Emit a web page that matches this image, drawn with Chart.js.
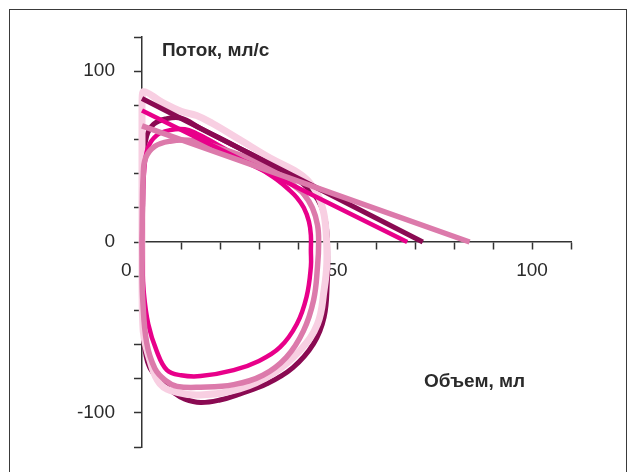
<!DOCTYPE html>
<html>
<head>
<meta charset="utf-8">
<script src="https://cdn.jsdelivr.net/npm/chart.js@4"></script>
<style>
  body { margin: 0; background: #fff; }
  #frame { position: absolute; left: 9px; top: 9px; width: 616px; height: 480px; border: 1.5px solid #3a3a3a; }
  #chart { position: absolute; left: 0; top: 0; }
</style>
</head>
<body>
<div id="frame"></div>
<canvas id="chart" width="634" height="472"></canvas>
<script>
// volume (ml), flow (ml/s) pairs
const maroonLoop = [[0,0],[0.2,25],[0.4,48],[1.2,62],[3,69],[6,72],[10,72.5],[15,66.5],[20,60.7],[25,54.8],[30,49],[35,43.2],[39,38],[42.3,32],[45,25],[46.7,16],[47.4,6],
  [47.6,-5],[47.5,-24],[46.7,-44],[44,-59.5],[38.7,-73.5],[32,-83],[25,-89],[20,-92.5],[15,-94],[11,-92],[8,-88],[4.6,-81],[2,-73.5],[0.8,-63.5],[0.3,-50],[0.1,-25],[0,0]]
const magentaLoop = [[0,0],[0.2,20],[0.5,40],[1.5,55],[3.8,62.5],[7.2,65.5],[11,66],[14,63.5],[17,60],[22.5,53],[27.7,47],[31,42],[34.6,36.5],[37.5,31],[39.7,26],[41.5,20],[42.8,12],[43.3,4],
  [43.3,-5],[43.3,-14.5],[42.2,-32],[39.7,-48],[35.4,-61.6],[30,-69.6],[23.5,-75],[15,-78.5],[10,-78],[6.4,-75],[3.8,-64],[1.6,-48],[0.4,-28],[0.1,-12],[0,0]]
const pinkLoop = [[0,0],[0.1,20],[0.3,38],[0.9,49],[3.3,56],[7.2,59],[12,59.5],[17,57],[22.5,53],[27.7,49],[32,44.5],[36,39.5],[39,33],[41.5,28],[43.7,20],[45,10],[45.3,0],
  [45,-14.5],[44,-34],[41.4,-52],[37,-67.5],[31,-78],[23.5,-83.5],[15,-85],[9,-84.5],[6,-81],[3.3,-74],[1.2,-59],[0.2,-34],[0,-15],[0,0]]
const lightLoop = [[0,0],[0,30],[0,60],[0,80],[0.3,88],[5,82],[10,76.5],[14,74],[18,69.5],[25,60],[33,49],[39,42],[42.5,36],[45,28],[46.5,18],[47.2,6],
  [47.4,-12],[46.7,-28],[45,-48],[40.5,-63.5],[33.6,-77],[25,-86],[15,-89.5],[9,-88],[4.6,-83],[2,-69],[0.3,-52],[0,-25],[0,0]]

const maroonLine = [[0,84],[72,0]]
const magentaLine = [[0,77],[68,0]]
const pinkLine = [[0,68],[84,0]]

const xLabels = { 0: '0      ', 50: '50', 100: '100' }
const yLabels = { 100: '100', 0: '0', '-100': '-100' }

const MAROON = '#8a0a52'
const MAGENTA = '#e8008a'
const PINK = '#dc7aab'
const LIGHT = '#f8cfe2'

const toPoints = (arr) => arr.map(([x, y]) => ({ x, y }))

function series (data, color, width) {
    return {
        data: toPoints(data),
        showLine: true,
        borderColor: color,
        borderWidth: width,
        pointRadius: 0,
        tension: 0.4,
        fill: false,
        clip: false
    }
}

// first dataset is drawn on top
const datasets = [
    series(pinkLine, PINK, 5.5),
    series(magentaLine, MAGENTA, 4.5),
    series(maroonLine, MAROON, 5),
    series(pinkLoop, PINK, 5.5),
    series(magentaLoop, MAGENTA, 4.5),
    series(lightLoop, LIGHT, 7),
    series(maroonLoop, MAROON, 5)
]

const axisTitles = {
    id: 'axisTitles',
    afterDraw (chart) {
        const { ctx, scales: { x, y } } = chart
        ctx.save()
        ctx.font = 'bold 19px "Liberation Sans", Arial, sans-serif'
        ctx.fillStyle = '#2a2a2a'
        ctx.textBaseline = 'middle'
        ctx.fillText('Поток, мл/с', x.getPixelForValue(5.1), y.getPixelForValue(112))
        ctx.fillText('Объем, мл', x.getPixelForValue(72.3), y.getPixelForValue(-82))
        ctx.restore()
    }
}

const tickFont = { family: '"Liberation Sans", Arial, sans-serif', size: 19 }

new Chart(document.getElementById('chart'), {
    type: 'scatter',
    data: { datasets },
    options: {
        responsive: false,
        animation: false,
        layout: { padding: { left: 0, right: 63, top: 37, bottom: 25 } },
        plugins: { legend: { display: false }, tooltip: { enabled: false } },
        scales: {
            x: {
                type: 'linear',
                min: 0,
                max: 110,
                position: { y: 0 },
                afterFit: (s) => { s.height = 0; s.paddingLeft = 0; s.paddingRight = 0 },
                grid: { drawOnChartArea: false, tickLength: 7, tickColor: '#333', tickWidth: 1.5 },
                border: { color: '#333', width: 1.5 },
                ticks: {
                    stepSize: 10,
                    autoSkip: false,
                    maxRotation: 0,
                    minRotation: 0,
                    padding: 10,
                    color: '#2a2a2a',
                    font: tickFont,
                    callback: (v) => xLabels[v] || ''
                }
            },
            y: {
                type: 'linear',
                min: -120,
                max: 120,
                position: 'left',
                afterFit: (s) => { s.width = 142; s.paddingTop = 0; s.paddingBottom = 0 },
                grid: { drawOnChartArea: false, tickLength: 8, tickColor: '#333', tickWidth: 1.5 },
                border: { color: '#333', width: 1.5 },
                ticks: {
                    stepSize: 20,
                    autoSkip: false,
                    padding: 19,
                    color: '#2a2a2a',
                    font: tickFont,
                    callback: (v) => yLabels[v] || ''
                }
            }
        }
    },
    plugins: [axisTitles]
})
</script>
</body>
</html>
